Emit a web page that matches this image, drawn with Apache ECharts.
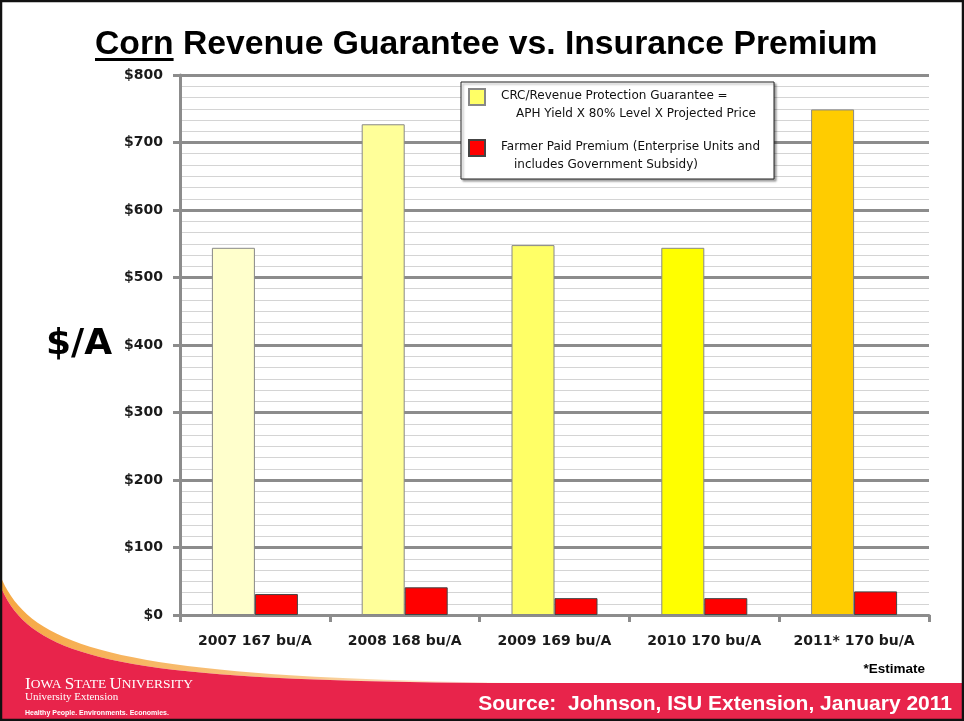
<!DOCTYPE html>
<html>
<head>
<meta charset="utf-8">
<script src="https://cdn.jsdelivr.net/npm/echarts@6/dist/echarts.min.js"></script>
<style>
  html, body { margin: 0; padding: 0; background: #fff; }
  #chart { width: 964px; height: 721px; }
</style>
</head>
<body>
<div id="chart"></div>
<script>
// values ($ per acre)
var categories = ['2007 167 bu/A', '2008 168 bu/A', '2009 169 bu/A', '2010 170 bu/A', '2011* 170 bu/A'];
var guarantee = [544, 727, 548, 544, 749];
var premium = [31, 41, 25, 25, 35];
var guaranteeColors = ['#FFFFCC', '#FFFF99', '#FFFF66', '#FFFF00', '#FFCC00'];
var seriesNames = ['CRC/Revenue Protection Guarantee =', 'Farmer Paid Premium (Enterprise Units and'];
var legendSecondLines = ['APH Yield X 80% Level X Projected Price', 'includes Government Subsidy)'];

var chart = echarts.init(document.getElementById('chart'));

// title sized to span the same width as on the slide, "Corn" gets an underline
var titleText = 'Corn Revenue Guarantee vs. Insurance Premium';
var ctx = document.createElement('canvas').getContext('2d');
ctx.font = 'bold 32px "Liberation Sans"';
var titleSize = 32 * 783 / ctx.measureText(titleText).width;
ctx.font = 'bold ' + titleSize + 'px "Liberation Sans"';
var cornWidth = ctx.measureText('Corn').width;

// slide background: red band with the orange swoosh at the bottom
function curvePoints(dy) {
    var pts = [];
    var p0 = [0, 585 + dy], p1 = [30, 660 + dy], p2 = [120, 682 + dy * 0.5], p3 = [520, 683];
    for (var i = 0; i <= 40; i++) {
        var t = i / 40, u = 1 - t;
        pts.push([
            u * u * u * p0[0] + 3 * u * u * t * p1[0] + 3 * u * t * t * p2[0] + t * t * t * p3[0],
            u * u * u * p0[1] + 3 * u * u * t * p1[1] + 3 * u * t * t * p2[1] + t * t * t * p3[1]
        ]);
    }
    return pts;
}
var redPts = curvePoints(0).concat([[964, 683], [964, 721], [0, 721]]);
var orangePts = curvePoints(-10).concat(curvePoints(0).reverse());

var dataItems = guarantee.map(function (v, i) {
    return { value: v, itemStyle: { color: guaranteeColors[i] } };
});

var legendFont = { fontFamily: 'DejaVu Sans', fontSize: 12, color: '#111', lineHeight: 18 };

var option = {
    backgroundColor: '#fff',
    animation: false,
    title: {
        text: titleText,
        left: 95,
        top: 28,
        padding: 0,
        textStyle: {
            fontFamily: 'Liberation Sans',
            fontWeight: 'bold',
            fontSize: titleSize,
            color: '#000'
        }
    },
    legend: {
        orient: 'vertical',
        left: 461,
        top: 82,
        padding: [5, 14, 5, 7],
        itemGap: 15,
        itemWidth: 16,
        itemHeight: 32,
        icon: 'path://M0,0h16v16h-16z M0,32h0.001',
        backgroundColor: '#fff',
        borderColor: '#222',
        borderWidth: 1,
        shadowColor: 'rgba(0,0,0,0.35)',
        shadowOffsetX: 2,
        shadowOffsetY: 2,
        shadowBlur: 2,
        selectedMode: false,
        formatter: function (name) {
            var i = seriesNames.indexOf(name);
            return '{a|' + name + '}\n{b' + i + '|' + legendSecondLines[i] + '}';
        },
        textStyle: {
            fontFamily: legendFont.fontFamily,
            fontSize: legendFont.fontSize,
            color: legendFont.color,
            lineHeight: legendFont.lineHeight,
            rich: {
                a: Object.assign({ padding: [0, 0, 0, 11] }, legendFont),
                b0: Object.assign({ padding: [0, 0, 0, 26] }, legendFont),
                b1: Object.assign({ padding: [0, 0, 0, 24] }, legendFont)
            }
        }
    },
    grid: {
        left: 180,
        right: 35,
        top: 75,
        bottom: 106
    },
    xAxis: {
        type: 'category',
        data: categories,
        axisLine: { lineStyle: { color: '#8c8c8c', width: 3 } },
        axisTick: { show: true, interval: 0, length: 7, lineStyle: { color: '#8c8c8c', width: 3 } },
        axisLabel: {
            interval: 0,
            margin: 19,
            fontFamily: 'DejaVu Sans',
            fontWeight: 'bold',
            fontSize: 14,
            color: '#1a1a1a'
        }
    },
    yAxis: {
        type: 'value',
        min: 0,
        max: 800,
        interval: 100,
        name: '$/A',
        nameLocation: 'middle',
        nameRotate: 0,
        nameGap: 68,
        nameTextStyle: {
            fontFamily: 'DejaVu Sans',
            fontWeight: 'bold',
            fontSize: 36,
            color: '#000'
        },
        axisLine: { show: true, lineStyle: { color: '#8c8c8c', width: 3 } },
        axisTick: { show: true, length: 7, lineStyle: { color: '#8c8c8c', width: 3 } },
        axisLabel: {
            margin: 17,
            fontFamily: 'DejaVu Sans',
            fontWeight: 'bold',
            fontSize: 14,
            color: '#1a1a1a',
            formatter: function (v) { return '$' + v; }
        },
        splitLine: { show: true, lineStyle: { color: '#8c8c8c', width: 3 } },
        minorTick: { show: false, splitNumber: 6 },
        minorSplitLine: { show: true, lineStyle: { color: '#d4d4d4', width: 1.2 } }
    },
    series: [
        {
            name: seriesNames[0],
            type: 'bar',
            data: dataItems,
            barWidth: 43,
            barGap: '0%',
            itemStyle: { color: '#FFFF66', borderColor: '#888', borderWidth: 1 }
        },
        {
            name: seriesNames[1],
            type: 'bar',
            data: premium,
            barWidth: 43,
            itemStyle: { color: '#FF0000', borderColor: '#444', borderWidth: 1 }
        }
    ],
    graphic: [
        {
            type: 'polygon',
            z: -10,
            silent: true,
            shape: { points: orangePts },
            style: {
                fill: new echarts.graphic.LinearGradient(0, 0, 1, 0, [
                    { offset: 0, color: '#F6A843' },
                    { offset: 0.6, color: '#F8C88A' },
                    { offset: 1, color: 'rgba(250,220,180,0.3)' }
                ])
            }
        },
        {
            type: 'polygon',
            z: -9,
            silent: true,
            shape: { points: redPts },
            style: { fill: '#E8244B' }
        },
        {
            type: 'rect',
            silent: true,
            z: 5,
            shape: { x: 95, y: 58, width: cornWidth, height: 3 },
            style: { fill: '#000' }
        },
        {
            type: 'text',
            left: 25,
            top: 676,
            silent: true,
            style: {
                text: '{b|I}{s|OWA }{b|S}{s|TATE }{b|U}{s|NIVERSITY}',
                fill: '#fff',
                rich: {
                    b: { fontFamily: 'Liberation Serif', fontSize: 17, fill: '#fff' },
                    s: { fontFamily: 'Liberation Serif', fontSize: 13.5, fill: '#fff' }
                }
            }
        },
        {
            type: 'text',
            left: 25,
            top: 692,
            silent: true,
            style: { text: 'University Extension', fontFamily: 'Liberation Serif', fontSize: 11, fill: '#fff' }
        },
        {
            type: 'text',
            left: 25,
            top: 710,
            silent: true,
            style: { text: 'Healthy People. Environments. Economies.', fontFamily: 'Liberation Sans', fontWeight: 'bold', fontSize: 7, fill: '#fff' }
        },
        {
            type: 'text',
            right: 12,
            top: 694,
            silent: true,
            style: { text: 'Source:  Johnson, ISU Extension, January 2011', fontFamily: 'Liberation Sans', fontWeight: 'bold', fontSize: 21, fill: '#fff' }
        },
        {
            type: 'text',
            right: 39,
            top: 662,
            silent: true,
            style: { text: '*Estimate', fontFamily: 'Liberation Sans', fontWeight: 'bold', fontSize: 13.5, fill: '#000' }
        },
        {
            type: 'rect',
            silent: true,
            z: 10,
            shape: { x: 1, y: 1, width: 962, height: 719 },
            style: { fill: 'none', stroke: '#111', lineWidth: 2.5 }
        }
    ]
};
chart.setOption(option);
</script>
</body>
</html>
